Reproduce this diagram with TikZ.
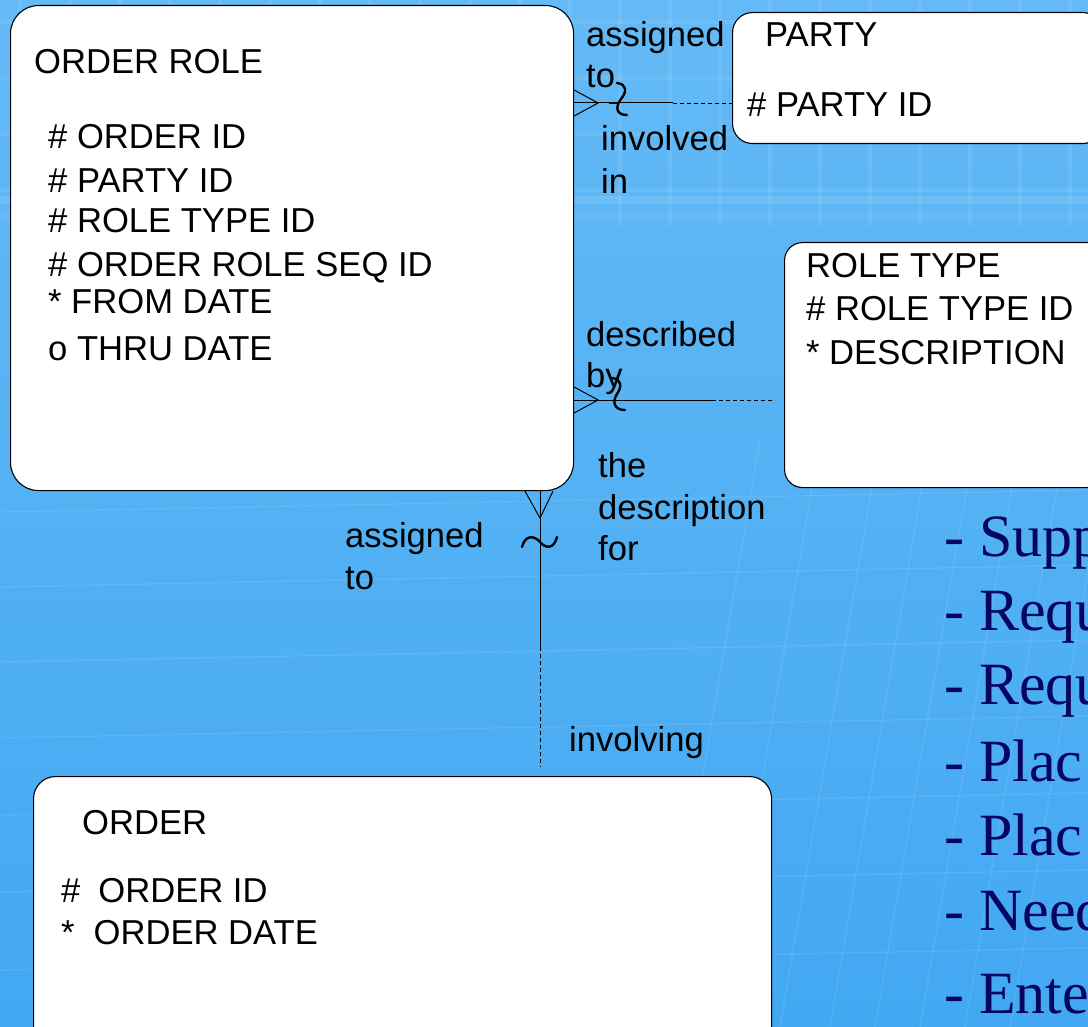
\documentclass[tikz,border=0pt]{standalone}
\usepackage{fontspec}
\setmainfont{Liberation Sans}
\newfontfamily\slidefont{Liberation Serif}
\usetikzlibrary{calc}
\definecolor{bgtop}{RGB}{100,186,246}
\definecolor{bgmid}{RGB}{52,157,238}
\definecolor{bgbot}{RGB}{66,168,242}
\definecolor{navy}{RGB}{6,6,96}
\begin{document}
\begin{tikzpicture}[x=1pt,y=-1pt,
  entity/.style={draw=black, line width=1.1pt, fill=white, inner sep=0pt, anchor=north west},
  lbl/.style={anchor=base west, inner sep=0pt, font=\fontsize{34.6}{40}\selectfont},
  rel/.style={line width=1pt},
  reldash/.style={line width=0.9pt, dash pattern=on 4pt off 3pt},
  squig/.style={line width=2.4pt, line cap=round},
  bullet/.style={anchor=base west, inner sep=0pt, text=navy, font=\slidefont\fontsize{60}{68}\selectfont},
  gridline/.style={white, opacity=0.10, line width=1.2pt}]

\useasboundingbox (0,0) rectangle (1088,1027);
\clip (0,0) rectangle (1088,1027);

% slide background
\shade[top color=bgtop, middle color=bgmid, bottom color=bgbot] (0,0) rectangle (1088,1027);
\foreach \gx in {20,70,...,1070} \draw[white, opacity=0.08, line width=4pt] (\gx,0) -- (\gx,225);
\foreach \gy in {22,78,134,190} \draw[white, opacity=0.08, line width=4pt] (0,\gy) -- (1088,\gy);
\fill[white, opacity=0.10] (0,196) rectangle (1088,204);
\fill[white, opacity=0.08] (0,212) rectangle (1088,220);
\foreach \gy in {500,575,650,726,803,880,958} \draw[gridline] (0,\gy+12) -- (1088,\gy-10);
\foreach \gx in {760,820,880,930,975,1020,1065,1110} \draw[gridline] (\gx,440) -- (\gx-100,1027);

% entities
\node[entity, rounded corners=28pt, minimum width=563pt, minimum height=485pt] (orderrole) at (10,5) {};
\node[entity, rounded corners=20pt, minimum width=370pt, minimum height=131pt] (party) at (732,12) {};
\node[entity, rounded corners=18pt, minimum width=320pt, minimum height=245pt] (roletype) at (784,242) {};
\node[entity, rounded corners=22pt, minimum width=738pt, minimum height=280pt] (order) at (33,776) {};

% ORDER ROLE attributes
\node[lbl] (orTitle) at (34,74) {ORDER ROLE};
\node[lbl] (or1) at (48,149) {\# ORDER ID};
\node[lbl] (or2) at (48,193) {\# PARTY ID};
\node[lbl] (or3) at (48,233) {\# ROLE TYPE ID};
\node[lbl] (or4) at (48,277) {\# ORDER ROLE SEQ ID};
\node[lbl] (or5) at (48,314) {* FROM DATE};
\node[lbl] (or6) at (48,360) {o THRU DATE};

% PARTY attributes
\node[lbl] (paTitle) at (765,47) {PARTY};
\node[lbl] (pa1) at (747,117) {\# PARTY ID};

% ROLE TYPE attributes
\node[lbl] (rtTitle) at (806,278) {ROLE TYPE};
\node[lbl] (rt1) at (806,321) {\# ROLE TYPE ID};
\node[lbl] (rt2) at (806,364) {* DESCRIPTION};

% ORDER attributes
\node[lbl] (odTitle) at (82,834) {ORDER};
\node[lbl] (od1) at (61,902) {\#\hspace{18pt}ORDER ID};
\node[lbl] (od2) at (61,944) {*\hspace{19pt}ORDER DATE};

% relationship: ORDER ROLE -- PARTY
\coordinate (ya) at (0,103);
\coordinate (ma) at (673,103);
\draw[rel] ($(orderrole.east |- ya)+(0,-13)$) -- ($(orderrole.east |- ya)+(24,0)$) -- ($(orderrole.east |- ya)+(0,13)$);
\draw[rel] (orderrole.east |- ya) -- (ma);
\draw[reldash] (ma) -- (party.west |- ya);
\draw[line width=2.4pt] (609,103) -- (617,103);
\draw[squig] (617,83) .. controls (627,84) and (627,92) .. (621,99) .. controls (615,107) and (616,115) .. (627,115);
\node[lbl] (la1) at (586,47) {assigned};
\node[lbl] (la2) at (586,88) {to};
\node[lbl] (la3) at (601,151) {involved};
\node[lbl] (la4) at (601,194) {in};

% relationship: ORDER ROLE -- ROLE TYPE
\coordinate (yb) at (0,400);
\coordinate (mb) at (712,400);
\coordinate (eb) at (775,400);
\draw[rel] ($(orderrole.east |- yb)+(0,-13)$) -- ($(orderrole.east |- yb)+(24,0)$) -- ($(orderrole.east |- yb)+(0,13)$);
\draw[rel] (orderrole.east |- yb) -- (mb);
\draw[reldash] (mb) -- (eb);
\draw[squig] (612,378) .. controls (622,379) and (622,387) .. (617,394) .. controls (612,402) and (614,410) .. (625,410);
\node[lbl] (lb1) at (586,347) {described};
\node[lbl] (lb2) at (586,388) {by};
\node[lbl] (lb3) at (598,477) {the};
\node[lbl] (lb4) at (598,519) {description};
\node[lbl] (lb5) at (598,560) {for};

% relationship: ORDER ROLE -- ORDER
\coordinate (xc) at (540,0);
\coordinate (mc) at (540,647);
\coordinate (ec) at (540,767);
\draw[rel] ($(orderrole.south -| xc)+(-15,0)$) -- ($(orderrole.south -| xc)+(0,27)$) -- ($(orderrole.south -| xc)+(13,0)$);
\draw[rel] (orderrole.south -| xc) -- (mc);
\draw[reldash] (mc) -- (ec);
\draw[squig] (522,547) .. controls (525,535) and (534,535) .. (540,542) .. controls (546,549) and (554,549) .. (557,537);
\node[lbl] (lc1) at (345,547) {assigned};
\node[lbl] (lc2) at (345,589) {to};
\node[lbl] (lc3) at (569,751) {involving};

% slide bullet text
\node[bullet] (b1) at (944,556) {- Supp};
\node[bullet] (b2) at (944,630) {- Requ};
\node[bullet] (b3) at (944,704) {- Requ};
\node[bullet] (b4) at (944,781) {- Plac};
\node[bullet] (b5) at (944,855) {- Plac};
\node[bullet] (b6) at (944,930) {- Need};
\node[bullet] (b7) at (944,1013) {- Ente};
\end{tikzpicture}
\end{document}
